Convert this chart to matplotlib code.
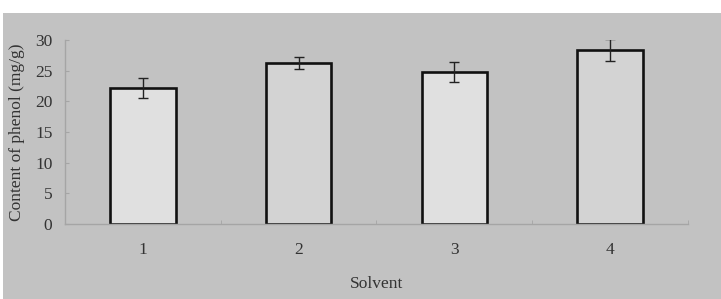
import matplotlib
matplotlib.use("Agg")
import matplotlib.pyplot as plt
from matplotlib.patches import Rectangle

# data
solvents = ["1", "2", "3", "4"]
phenol = [22.2, 26.3, 24.8, 28.4]
errors = [1.6, 1.0, 1.6, 1.75]
fills = ["#e0e0e0", "#d3d3d3", "#e0e0e0", "#d3d3d3"]

plt.rcParams["font.family"] = ["Liberation Serif", "DejaVu Serif"]
text_color = "#333333"

fig = plt.figure(figsize=(7.21, 2.99), dpi=100)
fig.patch.set_facecolor("white")
# grey panel behind the whole chart
fig.add_artist(Rectangle((3 / 721, 0), 1, 1 - 13 / 299, transform=fig.transFigure,
                         facecolor="#c2c2c2", edgecolor="none", zorder=-5))

ax = fig.add_axes([65 / 721, 1 - 224 / 299, 623 / 721, 184 / 299])
ax.set_zorder(2)
ax.set_facecolor("none")

x = list(range(1, len(solvents) + 1))
ax.bar(x, phenol, width=0.42, color=fills, edgecolor="#111111", linewidth=1.9, zorder=2)
ax.errorbar(x, phenol, yerr=errors, fmt="none", ecolor="#222222", elinewidth=1.0,
            capsize=3.3, capthick=1.0, zorder=3)

ax.set_xlim(0.5, 4.5)
ax.set_ylim(0, 30)
ax.set_yticks([0, 5, 10, 15, 20, 25, 30])
ax.set_xticks(x)
ax.set_xticklabels(solvents)
ax.set_xticks([1.5, 2.5, 3.5, 4.5], minor=True)

for side in ["top", "right"]:
    ax.spines[side].set_visible(False)
for side in ["left", "bottom"]:
    ax.spines[side].set_color("#a5a5a5")
    ax.spines[side].set_linewidth(1.0)

ax.tick_params(axis="y", direction="in", length=3, color="#a5a5a5",
               labelsize=12.5, labelcolor=text_color, pad=9)
ax.tick_params(axis="x", which="major", length=0, labelsize=12.5,
               labelcolor=text_color, pad=13)
ax.tick_params(axis="x", which="minor", direction="in", length=3, color="#a5a5a5")

ax.set_xlabel("Solvent", fontsize=12.5, color=text_color, labelpad=13)
ax.set_ylabel("Content of phenol (mg/g)", fontsize=12.5, color=text_color, labelpad=7)

fig.savefig("out.png", dpi=100)
